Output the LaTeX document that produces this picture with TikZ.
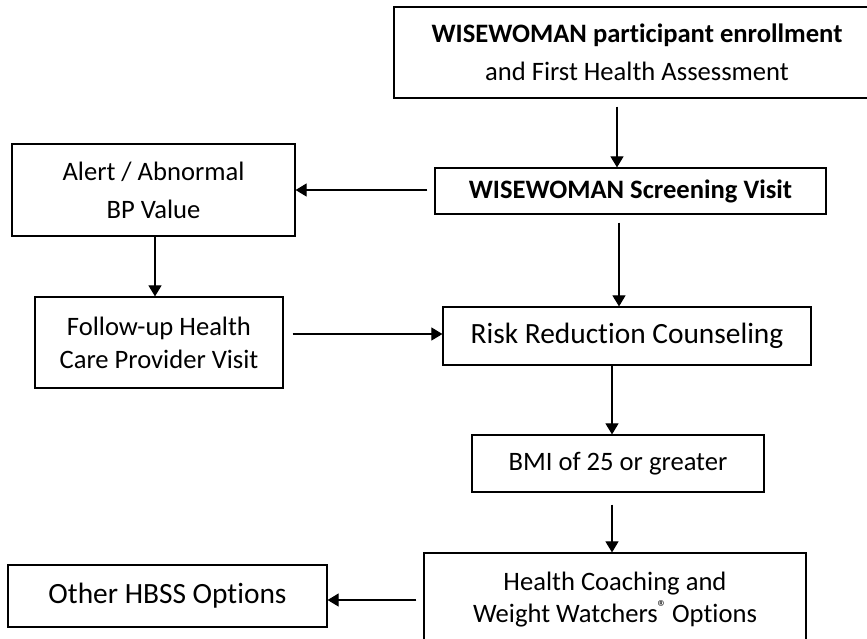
\documentclass[tikz,border=0pt]{standalone}
\usepackage{fontspec}
\setmainfont{Carlito}[Ligatures=NoCommon]
\usetikzlibrary{arrows.meta}
\begin{document}
\begin{tikzpicture}[x=1pt,y=-1pt,
  box/.style={draw,line width=1.2pt,rectangle,align=center,inner sep=0pt,font=\fontsize{26.6}{38}\selectfont},
  big/.style={font=\fontsize{29.4}{34}\selectfont},
  arr/.style={line width=1.1pt,-{Triangle[length=11pt,width=13pt]}}]
\useasboundingbox (0,0) rectangle (867,638);
\clip (0,0) rectangle (867,638);
\node[box,minimum width=486pt,minimum height=91pt] (top) at (637,52.5)
  {\textbf{WISEWOMAN participant enrollment}\\and First Health Assessment};
\node[box,minimum width=391pt,minimum height=46pt,font=\fontsize{26.6}{30}\selectfont\bfseries] (scr) at (630.5,191)
  {WISEWOMAN Screening Visit};
\node[box,minimum width=283pt,minimum height=92pt] (alert) at (153.5,190)
  {Alert / Abnormal\\BP Value};
\node[box,minimum width=248pt,minimum height=91pt,font=\fontsize{26.6}{33}\selectfont] (fu) at (159,342.5)
  {Follow-up Health\\Care Provider Visit};
\node[box,big,minimum width=368pt,minimum height=58pt] (risk) at (627,336)
  {Risk Reduction Counseling};
\node[box,minimum width=292pt,minimum height=57pt] (bmi) at (618,463.5)
  {BMI of 25 or greater};
\node[box,minimum width=382pt,minimum height=94pt,font=\fontsize{26.6}{32}\selectfont] (hc) at (615,600)
  {Health Coaching and\\Weight Watchers\textsuperscript{®}\,Options};
\node[box,big,minimum width=319pt,minimum height=62pt] (oth) at (167.5,596)
  {Other HBSS Options};
\coordinate (c1) at (617,0);
\coordinate (c2) at (619,0);
\coordinate (c3) at (612,0);
\coordinate (c5) at (155,0);
\coordinate (r1) at (0,190);
\coordinate (r2) at (0,334);
\coordinate (r3) at (0,600);
\draw[arr,shorten <=8pt] (top.south -| c1) -- (scr.north -| c1);
\draw[arr,shorten <=7pt] (scr.west |- r1) -- (alert.east |- r1);
\draw[arr] (alert.south -| c5) -- (fu.north -| c5);
\draw[arr,shorten <=9pt] (fu.east |- r2) -- (risk.west |- r2);
\draw[arr,shorten <=8pt] (scr.south -| c2) -- (risk.north -| c2);
\draw[arr] (risk.south -| c3) -- (bmi.north -| c3);
\draw[arr,shorten <=12pt] (bmi.south -| c3) -- (hc.north -| c3);
\draw[arr,shorten <=7pt] (hc.west |- r3) -- (oth.east |- r3);
\end{tikzpicture}
\end{document}
